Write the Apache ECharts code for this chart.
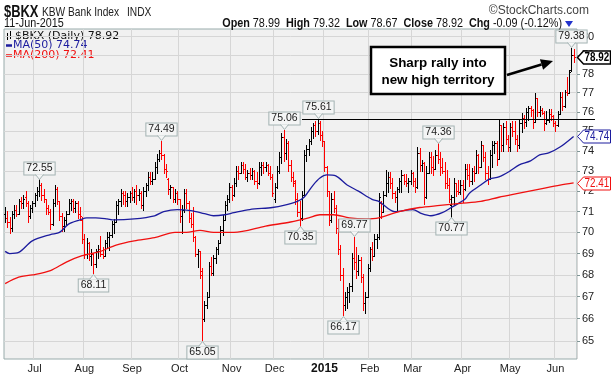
<!DOCTYPE html>
<html><head><meta charset="utf-8">
<script src="https://cdn.jsdelivr.net/npm/echarts@6/dist/echarts.min.js"></script>
<style>html,body{margin:0;padding:0;background:#fff}#c{width:611px;height:377px}</style>
</head><body><div id="c"></div>
<script>
// ---------- categories: trading days 12-Jun-2014 .. 11-Jun-2015 ----------
const holidays = ['2014-07-04','2014-09-01','2014-11-27','2014-12-25','2015-01-01','2015-01-19','2015-02-16','2015-04-03','2015-05-25'];
const dates = [];
for (let d = new Date(Date.UTC(2014,5,12)); d.getTime() <= Date.UTC(2015,5,11); d.setUTCDate(d.getUTCDate()+1)) {
  const wd = d.getUTCDay(), s = d.toISOString().slice(0,10);
  if (wd > 0 && wd < 6 && holidays.indexOf(s) < 0) dates.push(s);
}
dates.push(''); // right padding slot
const monthNames = ['2015','Feb','Mar','Apr','May','Jun','Jul','Aug','Sep','Oct','Nov','Dec'];

// ---------- daily bars [open, high, low, close] ----------
const ohlc = [
 // Jun 2014
 [70.9,71.2,70.5,70.7],[70.7,71.0,70.3,70.5],[70.5,70.7,70.0,70.2],[70.2,71.0,70.1,70.9],[70.9,71.3,70.7,71.1],[71.1,71.3,70.8,70.9],
 [70.9,71.6,70.9,71.5],[71.5,71.7,71.2,71.4],[71.4,71.8,71.2,71.6],[71.7,72.0,71.3,71.4],[71.4,71.5,70.5,70.8],[70.8,71.3,70.7,71.2],
 [71.2,71.5,71.0,71.4],
 // Jul
 [71.4,71.9,71.3,71.8],[71.8,72.2,71.6,72.0],[72.0,72.55,71.8,72.3],[72.3,72.4,71.6,71.8],[71.8,72.1,71.5,71.6],[71.6,71.6,70.9,71.2],
 [71.2,71.3,70.9,71.0],[71.0,71.1,70.2,70.4],[70.4,71.6,70.4,71.4],[71.4,72.3,71.3,72.1],[72.1,72.2,71.4,71.5],[71.5,71.5,70.6,70.8],
 [70.8,70.9,70.1,70.3],[70.3,70.7,70.1,70.6],[70.6,71.0,70.4,70.9],[70.9,71.6,70.9,71.4],[71.4,71.6,71.1,71.5],[71.5,71.6,71.0,71.2],
 [71.2,71.5,71.0,71.4],[71.4,71.5,70.7,70.9],[70.9,71.2,70.6,70.8],[70.6,70.7,69.5,69.7],
 // Aug
 [69.7,69.9,68.8,69.0],[69.0,69.7,68.8,69.5],[69.5,69.5,68.7,68.9],[68.9,69.2,68.5,69.0],[69.0,69.0,68.11,68.5],[68.5,69.2,68.4,69.1],
 [69.1,69.4,68.8,69.2],[69.2,69.8,68.9,69.0],[69.0,69.3,68.8,68.9],[68.9,69.6,68.9,69.5],[69.5,70.0,69.3,69.8],[69.8,70.0,69.2,69.9],
 [69.9,70.5,69.8,70.4],[70.4,70.6,70.0,70.5],[70.5,71.5,70.5,71.3],[71.3,71.6,70.9,71.5],[71.5,72.1,71.3,71.9],[71.9,72.0,71.4,71.8],
 [71.8,72.0,71.3,71.5],[71.5,71.9,71.3,71.7],[71.7,72.0,71.5,71.9],
 // Sep
 [71.9,72.2,71.6,71.7],[71.7,72.1,71.5,72.0],[72.0,72.3,71.4,71.8],[71.8,72.1,71.6,71.9],[71.9,72.0,71.2,71.3],[71.3,72.2,71.1,72.0],
 [72.0,72.4,71.8,72.3],[72.3,72.9,72.1,72.7],[72.7,72.9,72.4,72.5],[72.5,72.9,72.4,72.6],[72.6,73.4,72.6,73.2],[73.2,73.8,72.9,73.6],
 [73.6,74.0,73.5,73.9],[73.9,74.49,73.6,73.8],[73.8,73.8,72.9,73.1],[73.1,73.3,72.7,73.0],[72.6,72.6,71.9,72.1],[72.1,72.3,71.7,72.2],
 [72.2,72.2,71.5,71.6],[71.6,72.1,71.5,71.9],[71.9,72.0,71.4,71.6],
 // Oct
 [71.6,71.6,70.5,70.8],[70.8,71.3,70.0,71.1],[71.1,72.1,71.0,71.9],[71.9,72.1,71.2,71.4],[71.4,71.5,70.5,70.7],[70.7,70.9,70.3,70.4],
 [70.4,71.2,69.6,69.8],[69.8,69.8,68.9,69.0],[69.0,69.2,68.4,69.1],[69.1,69.1,67.9,68.2],[68.0,68.3,65.05,66.0],[66.0,66.8,65.9,66.6],
 [66.6,67.2,66.5,67.0],[67.0,68.6,67.0,68.4],[68.4,68.8,68.0,68.1],[68.1,68.9,68.0,68.8],[68.8,69.3,68.6,69.2],[69.2,69.6,69.0,69.5],
 [69.5,70.3,69.5,70.1],[70.1,70.8,69.9,70.6],[70.6,71.5,70.6,71.3],[71.3,71.8,71.1,71.6],[71.6,72.4,71.5,72.2],
 // Nov
 [72.2,72.3,71.6,71.8],[71.8,72.6,71.8,72.4],[72.4,73.2,72.3,73.0],[73.0,73.2,72.6,72.9],[72.9,73.4,72.9,73.3],[73.3,73.4,72.9,73.1],
 [73.1,73.3,72.6,72.7],[72.7,73.0,72.5,72.9],[72.9,73.1,72.6,72.8],[72.8,73.1,72.6,73.0],[73.0,73.0,72.4,72.5],[72.5,72.9,72.2,72.4],
 [72.4,73.4,72.4,73.2],[73.2,73.4,72.8,73.3],[73.3,73.4,72.9,73.2],[73.2,73.4,73.0,73.3],[73.3,73.3,72.8,72.9],[72.9,73.2,72.6,72.7],
 [72.7,72.8,71.8,71.9],
 // Dec
 [71.6,72.4,71.5,72.2],[72.2,73.2,72.2,73.0],[73.0,73.9,72.9,73.7],[73.7,74.9,73.4,74.7],[74.7,75.06,73.5,73.9],[73.9,74.6,73.6,74.4],
 [74.4,74.5,73.0,73.3],[73.3,73.5,72.5,72.7],[72.7,72.9,72.3,72.5],[72.4,72.5,71.4,71.6],[71.6,71.9,70.8,71.0],[71.0,71.5,70.35,70.7],
 [70.7,72.0,70.6,71.8],[71.8,74.0,71.8,73.8],[73.8,74.3,73.5,74.1],[74.1,74.6,73.8,74.5],[74.5,75.2,74.4,75.0],[75.0,75.4,74.7,75.3],
 [75.3,75.5,74.8,75.0],[75.0,75.61,74.9,75.4],[75.4,75.5,74.6,74.8],[74.8,75.0,74.3,74.5],
 // Jan 2015
 [74.5,74.5,73.0,73.2],[73.2,73.2,71.8,72.0],[72.0,72.0,70.4,70.6],[70.6,71.9,70.5,71.6],[71.6,72.0,71.0,71.2],[71.2,71.3,70.0,70.2],
 [70.2,70.6,69.0,69.2],[69.2,69.4,67.8,68.0],[68.0,68.3,66.17,66.6],[66.6,67.2,66.4,67.0],[67.0,67.4,66.5,67.2],[67.2,67.6,66.8,67.5],
 [67.5,69.0,67.3,68.8],[68.8,69.77,68.3,68.6],[68.6,69.3,67.9,68.2],[68.2,68.9,68.0,68.7],[68.7,68.8,67.7,67.9],[67.9,68.0,66.4,66.7],
 [66.7,67.2,66.3,67.0],[67.0,68.5,67.0,68.3],
 // Feb
 [68.3,69.3,68.2,69.2],[69.2,69.5,68.7,68.9],[68.9,69.9,68.9,69.7],[69.7,69.9,69.3,69.8],[69.8,71.9,69.7,71.7],[71.4,71.5,70.7,71.0],
 [71.0,72.0,71.0,71.8],[71.8,73.0,71.8,72.4],[72.4,72.9,72.0,72.7],[72.7,72.9,72.2,72.4],[72.4,72.6,71.7,71.9],[71.9,72.0,71.5,71.7],
 [71.7,72.2,71.1,72.1],[72.1,72.6,72.0,72.5],[72.5,73.0,72.0,72.8],[72.8,72.8,72.4,72.5],[72.5,72.8,72.3,72.4],[72.4,72.6,72.0,72.5],
 [72.5,73.0,72.4,72.9],
 // Mar
 [72.9,72.9,72.3,72.5],[72.5,72.6,72.0,72.2],[72.2,74.2,72.2,73.9],[73.9,74.1,73.0,73.3],[73.3,73.5,73.0,73.4],[73.4,73.4,71.4,71.7],
 [71.7,73.2,71.7,72.9],[72.9,73.9,72.9,73.7],[73.7,73.9,72.9,73.2],[73.2,73.7,72.8,73.1],[73.1,74.0,73.1,73.8],[73.8,74.36,73.4,73.6],
 [73.6,73.9,72.8,73.2],[73.2,73.6,72.9,73.0],[73.0,73.4,72.2,72.4],[72.4,73.0,72.2,72.3],[72.3,72.6,71.5,71.6],[71.3,71.8,70.77,71.7],
 [71.7,72.6,71.4,72.4],[72.4,72.4,71.8,72.0],[72.0,72.5,71.9,71.95],[71.95,72.5,71.9,72.3],
 // Apr
 [72.3,72.5,71.5,72.1],[72.1,73.3,72.1,73.1],[73.1,73.3,72.6,72.8],[72.8,73.3,72.3,72.5],[72.5,73.1,72.4,73.0],[73.0,73.2,72.5,72.9],
 [72.9,74.0,72.9,73.8],[73.8,73.8,72.9,73.2],[73.2,74.5,73.2,74.3],[74.3,74.3,73.5,73.7],[73.7,73.9,72.6,72.9],[72.9,73.2,72.4,72.6],
 [72.6,74.0,72.6,73.8],[73.8,74.5,73.2,74.3],[74.3,74.5,73.9,74.4],[74.4,74.5,73.3,73.6],[73.6,75.6,73.6,75.3],[75.3,75.3,74.0,74.3],
 [74.3,75.4,74.0,75.2],[75.2,75.5,74.4,74.6],[74.6,74.8,74.0,74.2],
 // May
 [74.2,75.4,74.0,75.2],[75.2,75.5,74.8,75.0],[75.0,75.5,74.4,74.6],[74.6,74.8,74.0,74.3],[74.3,75.6,74.2,75.4],[75.4,75.9,75.0,75.7],
 [75.7,75.8,75.2,75.5],[75.5,76.2,75.3,76.0],[76.0,76.3,75.6,76.2],[76.2,76.3,75.8,76.1],[76.1,76.1,75.2,75.5],[75.5,76.95,75.5,76.7],
 [76.7,76.7,75.8,76.0],[76.0,76.3,75.8,76.1],[76.1,76.2,75.9,75.95],[75.95,76.0,75.1,75.4],[75.4,76.0,75.4,75.6],[75.6,76.1,75.5,75.9],
 [75.9,76.1,75.6,75.8],[75.8,75.8,75.3,75.4],
 // Jun 2015
 [75.4,75.5,75.05,75.3],[75.3,76.0,75.3,75.9],[75.9,77.0,75.9,76.8],[76.8,77.0,76.1,76.3],[76.3,77.1,76.3,77.05],[77.05,77.8,76.9,77.0],
 [77.0,78.2,77.0,78.1],[78.2,79.38,78.2,79.01],[78.99,79.32,78.67,78.92]
];

// ---------- moving averages: [bar index, value] ----------
const ma50 = [[0,69.1],[2,69.0],[6,69.05],[12,69.6],[20,69.9],[24,70.0],[28,70.4],[33,70.6],[36,70.7],[40,70.7],[45,70.65],[48,70.6],
 [57,70.65],[66,70.8],[70,71.0],[76,71.1],[82,71.05],[88,70.9],[92,70.8],[97,70.85],[101,70.95],[108,71.1],[118,71.2],[123,71.3],
 [129,71.5],[132,71.7],[136,72.3],[139,72.65],[142,72.8],[146,72.75],[151,72.3],[156,72.0],[162,71.6],[165,71.5],[172,71.0],[180,71.1],
 [184,70.9],[188,70.8],[193,70.95],[197,71.2],[203,71.6],[205,71.9],[210,72.3],[214,72.6],[218,72.7],[223,73.0],[227,73.3],[232,73.5],
 [236,73.8],[240,73.9],[245,74.2],[251,74.74]];
const ma200 = [[0,67.6],[6,67.9],[12,68.0],[20,68.2],[27,68.6],[34,68.9],[42,69.1],[49,69.4],[57,69.6],[66,69.75],[75,70.0],[80,70.0],
 [86,70.1],[92,70.0],[101,70.0],[115,70.3],[126,70.5],[134,70.7],[139,70.85],[145,70.85],[152,70.7],[159,70.65],[165,70.7],[174,71.0],
 [183,71.2],[192,71.3],[201,71.4],[210,71.5],[218,71.7],[227,71.9],[236,72.1],[245,72.3],[251,72.41]];

// ---------- annotations ----------
const peaks = [[15,72.55,1],[39,68.11,0],[69,74.49,1],[87,65.05,0],[123,75.06,1],[130,70.35,0],[138,75.61,1],
 [149,66.17,0],[154,69.77,1],[191,74.36,1],[197,70.77,0],[250,79.38,1]];
const resistance = {fromIndex: 131, value: 75.61};
const lastValues = {close: 78.92, ma50: 74.74, ma200: 72.41};
const yTicks = [65,66,67,68,69,70,71,72,73,74,75,76,77,78,79,80];
const yRange = [64.21, 80.42];

const L = Math.log;
const ohlcData = ohlc.map((b,i)=>[i, L(b[0]), L(b[1]), L(b[2]), L(b[3]), (i===0 || b[3] >= ohlc[i-1][3]) ? 1 : 0]);
const isMonthStart = (i)=> i>0 && dates[i] && dates[i-1] && dates[i].slice(5,7) !== dates[i-1].slice(5,7);

const BLUE = '#1c1c9e', RED = '#f01010';
const FONT = '"Liberation Sans", Arial, sans-serif';
const chart = echarts.init(document.getElementById('c'), null, {renderer:'canvas'});

function renderOHLC(params, api){
  const i = api.value(0);
  const pO = api.coord([i, api.value(1)]), pH = api.coord([i, api.value(2)]);
  const pL = api.coord([i, api.value(3)]), pC = api.coord([i, api.value(4)]);
  const x = Math.round(pH[0]) + 0.5;
  const col = api.value(5) ? '#000' : '#ff0000';
  const st = {stroke: col, lineWidth: 1};
  const yo = Math.round(pO[1]) + 0.5, yc = Math.round(pC[1]) + 0.5;
  return {type:'group', children:[
    {type:'line', shape:{x1:x, y1:Math.floor(pH[1]), x2:x, y2:Math.ceil(pL[1])+1}, style:st},
    {type:'line', shape:{x1:x-1.5, y1:yo, x2:x, y2:yo}, style:st},
    {type:'line', shape:{x1:x, y1:yc, x2:x+1.5, y2:yc}, style:st}
  ]};
}
function renderPeak(params, api){
  const p = api.coord([api.value(0), api.value(1)]);
  const up = api.value(2) === 1;
  const txt = peaks[params.dataIndex][1].toFixed(2);
  const x = Math.round(p[0]) + 0.5;
  const dir = up ? -1 : 1;
  const y0 = Math.round(p[1]) + dir * 1 + 0.5;
  const yb = y0 + dir * 5;
  return {type:'group', children:[
    {type:'text', style:{text: txt, x: x, y: yb + dir * 6, align:'center', verticalAlign:'middle',
      font:'10.5px ' + FONT, fill:'#1a1a1a', backgroundColor:'#f4f5f5',
      borderColor:'#a3b3b3', borderWidth:1, padding:[1,2,0,2]}},
    {type:'polyline', shape:{points:[[x-4, yb],[x, y0],[x+4, yb]]}, style:{stroke:'#a3b3b3', fill:'#f4f5f5', lineWidth:1}}
  ]};
}
const tagDefs = [
  {v: lastValues.close, stroke:'#000', fill:'#fff', color:'#000', bold:true},
  {v: lastValues.ma50, stroke: BLUE, fill:'#fff', color: BLUE, bold:false},
  {v: lastValues.ma200, stroke: RED, fill:'#fff', color: RED, bold:false}
];
function renderTag(params, api){
  const p = api.coord([api.value(0), api.value(1)]);
  const t = tagDefs[params.dataIndex];
  const x0 = params.coordSys.x + params.coordSys.width + 0.5;
  const y = Math.round(p[1]) + 0.5;
  const h = 6.5, w = 33;
  return {type:'group', children:[
    {type:'polygon', shape:{points:[[x0, y],[x0+6, y-h],[x0+w, y-h],[x0+w, y+h],[x0+6, y+h]]},
      style:{fill:t.fill, stroke:t.stroke, lineWidth:t.bold ? 1.5 : 1}},
    {type:'text', x: x0+7, y: y+0.5, scaleX: 0.82, style:{text: t.v.toFixed(2), x: 0, y: 0, align:'left', verticalAlign:'middle',
      font:(t.bold?'bold 12px ':'12px ') + FONT, fill:t.color}}
  ]};
}
function renderResistance(params, api){
  const p = api.coord([api.value(0), api.value(1)]);
  const y = Math.round(p[1]) + 0.5;
  const xEnd = params.coordSys.x + params.coordSys.width + 18;
  return {type:'line', shape:{x1: Math.round(p[0]), y1:y, x2:xEnd, y2:y}, style:{stroke:'#000', lineWidth:1}};
}

// arrow geometry (annotation)
const aS = [507, 75], aT = [553, 61];
const adx = aT[0]-aS[0], ady = aT[1]-aS[1], alen = Math.hypot(adx, ady), ux = adx/alen, uy = ady/alen;
const aB = [aT[0]-ux*12, aT[1]-uy*12];

const option = {
  animation: false,
  backgroundColor: '#fff',
  grid: {left: 4, right: 34, top: 29, bottom: 18, show: true, backgroundColor:'#f1f1f1', borderColor:'#98abab', borderWidth:1},
  xAxis: {
    type:'category', data: dates, boundaryGap: true,
    axisLine:{show:false}, axisTick:{show:false},
    axisLabel:{interval:(i)=>isMonthStart(i), margin:4, fontSize:11, color:'#222', fontFamily:FONT,
      formatter:(v)=>{ const m = +v.slice(5,7); return m===1 ? '{b|2015}' : monthNames[m-1]; },
      rich:{b:{fontWeight:'bold', fontSize:12, color:'#111', fontFamily:FONT}}},
    splitLine:{show:true, interval:(i)=>isMonthStart(i), lineStyle:{color:'#d6d6d6', width:1}}
  },
  yAxis: {
    type:'value', position:'right', scale:true, min: L(yRange[0]), max: L(yRange[1]),
    axisLine:{show:false},
    axisTick:{show:true, length:3, lineStyle:{color:'#7f9595'}, customValues: yTicks.map(L)},
    axisLabel:{customValues: yTicks.map(L), formatter:(v)=>String(Math.round(Math.exp(v))), margin:5, fontSize:11, color:'#222',
      fontFamily:FONT},
    splitLine:{show:true, lineStyle:{color:'#d6d6d6', width:1}}
  },
  series: [
    {type:'custom', name:'BKX', renderItem: renderOHLC, data: ohlcData, encode:{x:0, y:[1,2,3,4]}, z:3},
    {type:'line', name:'MA(50)', data: ma50.map(p=>[p[0], L(p[1])]), showSymbol:false, smooth:0.3,
      lineStyle:{color:BLUE, width:1.3}, z:4},
    {type:'line', name:'MA(200)', data: ma200.map(p=>[p[0], L(p[1])]), showSymbol:false, smooth:0.3,
      lineStyle:{color:RED, width:1.3}, z:4},
    {type:'custom', name:'resistance', renderItem: renderResistance, data:[[resistance.fromIndex, L(resistance.value)]], z:5, clip:false},
    {type:'custom', name:'peaks', renderItem: renderPeak, data: peaks.map(p=>[p[0], L(p[1]), p[2]]), z:6, clip:false},
    {type:'custom', name:'tags', renderItem: renderTag,
      data: tagDefs.map(t=>[ohlc.length-1, L(t.v)]), z:20, clip:false}
  ],
  graphic: [
    {type:'text', x:4, y:12, scaleX:0.76, style:{text:'$BKX', x:0, y:0, verticalAlign:'middle', font:'bold 17px ' + FONT, fill:'#111'}},
    {type:'text', x:42, y:13, scaleX:0.85, style:{text:'KBW Bank Index', x:0, y:0, verticalAlign:'middle', font:'12px ' + FONT, fill:'#222'}},
    {type:'text', x:127, y:13, scaleX:0.85, style:{text:'INDX', x:0, y:0, verticalAlign:'middle', font:'12px ' + FONT, fill:'#222'}},
    {type:'text', x:589, y:11, style:{text:'\u00A9StockCharts.com', x:0, y:0, align:'right', verticalAlign:'middle', font:'12px ' + FONT, fill:'#444'}},
    {type:'text', x:4, y:24, scaleX:0.9, style:{text:'11-Jun-2015', x:0, y:0, verticalAlign:'middle', font:'12px ' + FONT, fill:'#111'}},
    {type:'text', x:562, y:24, scaleX:0.9, style:{
      text:'{b|Open} 78.99  {b|High} 79.32  {b|Low} 78.67  {b|Close} 78.92  {b|Chg} -0.09 (-0.12%)',
      x:0, y:0, align:'right', verticalAlign:'middle',
      font:'12px ' + FONT, fill:'#111',
      rich:{b:{fontWeight:'bold', fontSize:12, fill:'#111', fontFamily:FONT}}}},
    {type:'polygon', shape:{points:[[565,21],[573,21],[569,27]]}, style:{fill:'#2233cc'}},
    // legend inside plot
    {type:'group', x:6, y:31, children:[
      {type:'line', shape:{x1:1.5,y1:2,x2:1.5,y2:9}, style:{stroke:'#000', lineWidth:1}},
      {type:'line', shape:{x1:4.5,y1:0,x2:4.5,y2:8}, style:{stroke:'#000', lineWidth:1}},
      {type:'line', shape:{x1:0,y1:5.5,x2:6,y2:5.5}, style:{stroke:'#000', lineWidth:1}}
    ]},
    {type:'text', x:15, y:36, style:{text:'$BKX (Daily) 78.92', x:0, y:0, verticalAlign:'middle', font:'11px "DejaVu Sans", sans-serif', fill:'#111'}},
    {type:'line', shape:{x1:6,y1:45.5,x2:12,y2:45.5}, style:{stroke:BLUE, lineWidth:2.5}},
    {type:'text', x:13, y:45.5, style:{text:'MA(50) 74.74', x:0, y:0, verticalAlign:'middle', font:'11px "DejaVu Sans", sans-serif', fill:BLUE}},
    {type:'line', shape:{x1:6,y1:55.5,x2:12,y2:55.5}, style:{stroke:RED, lineWidth:2.5}},
    {type:'text', x:13, y:55.5, style:{text:'MA(200) 72.41', x:0, y:0, verticalAlign:'middle', font:'11px "DejaVu Sans", sans-serif', fill:RED}},
    // callout
    {type:'rect', shape:{x:371, y:47, width:134, height:47}, style:{fill:'#fff', stroke:'#000', lineWidth:2.5}, z:50},
    {type:'text', x:438, y:63, style:{text:'Sharp rally into', x:0, y:0, align:'center', verticalAlign:'middle',
      font:'bold 13.4px ' + FONT, fill:'#000'}, z:51},
    {type:'text', x:438, y:80, style:{text:'new high territory', x:0, y:0, align:'center', verticalAlign:'middle',
      font:'bold 13.4px ' + FONT, fill:'#000'}, z:51},
    {type:'line', shape:{x1:aS[0], y1:aS[1], x2:aB[0], y2:aB[1]}, style:{stroke:'#000', lineWidth:2.5}, z:51},
    {type:'polygon', shape:{points:[aT, [aB[0]+uy*5.5, aB[1]-ux*5.5], [aB[0]-uy*5.5, aB[1]+ux*5.5]]}, style:{fill:'#000'}, z:51}
  ]
};
chart.setOption(option);
</script>
</body></html>
